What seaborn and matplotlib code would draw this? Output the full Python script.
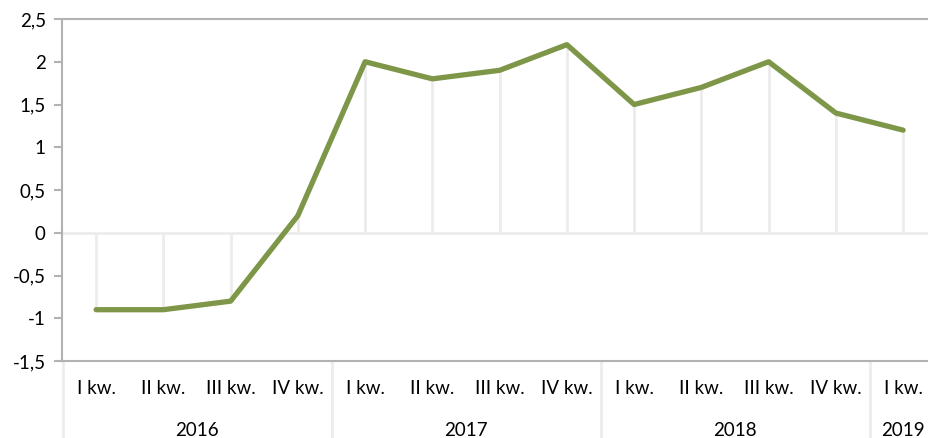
import numpy as np
import pandas as pd
import seaborn as sns
import matplotlib.pyplot as plt
from matplotlib.ticker import FuncFormatter

# dane
kwartaly = ['I kw.', 'II kw.', 'III kw.', 'IV kw.',
            'I kw.', 'II kw.', 'III kw.', 'IV kw.',
            'I kw.', 'II kw.', 'III kw.', 'IV kw.',
            'I kw.']
lata = ['2016', '2017', '2018', '2019']
kw_w_roku = [4, 4, 4, 1]
wartosci = [-0.9, -0.9, -0.8, 0.2,
            2.0, 1.8, 1.9, 2.2,
            1.5, 1.7, 2.0, 1.4,
            1.2]

df = pd.DataFrame({'poz': np.arange(len(wartosci)), 'wartosc': wartosci})

sns.set_theme(style="white")
plt.rcParams['font.family'] = ['Lato', 'DejaVu Sans']

fig = plt.figure(figsize=(9.29, 4.38), dpi=100)
ax = fig.add_axes([62.5 / 929, 77 / 438, 1 - 62.5 / 929, 342 / 438])

szary = '#b2b2b2'
jasny = '#ececec'

# linia zero i linie pionowe do punktow
ax.axhline(0, color=jasny, lw=2, zorder=1)
ax.vlines(df['poz'], 0, df['wartosc'], color=jasny, lw=2, zorder=1)

sns.lineplot(data=df, x='poz', y='wartosc', ax=ax, color='#7e9648',
             lw=3.8, zorder=3, solid_capstyle='round', solid_joinstyle='round')

ax.set_xlim(-0.5, -0.5 + (929 - 62.5) / 67.25)
ax.set_ylim(-1.5, 2.5)
ax.set_yticks(np.arange(-1.5, 2.51, 0.5))
ax.yaxis.set_major_formatter(FuncFormatter(
    lambda v, p: ('%g' % v).replace('.', ',')))
ax.tick_params(axis='y', left=True, length=6, width=1.5, color=szary,
               labelsize=13.5, pad=6, labelcolor='#000000')
ax.set_xticks([])
ax.set_xlabel('')
ax.set_ylabel('')

for s in ['left', 'bottom', 'top']:
    ax.spines[s].set_color(szary)
    ax.spines[s].set_linewidth(1.5)
ax.spines['right'].set_visible(False)

# podpisy kwartalow
tr = ax.get_xaxis_transform()
for i, k in enumerate(kwartaly):
    ax.text(i, -27 / 342, k, transform=tr, ha='center', va='center',
            fontsize=13.5, color='#000000')

# podpisy lat i separatory
start = 0
for rok, n in zip(lata, kw_w_roku):
    ax.plot([start - 0.5, start - 0.5], [0, -0.3], transform=tr,
            color=jasny, lw=2, clip_on=False, zorder=0)
    ax.text(start + (n - 1) / 2, -69 / 342, rok, transform=tr,
            ha='center', va='center', fontsize=13.5, color='#000000')
    start += n

fig.savefig('out.png', dpi=100)
